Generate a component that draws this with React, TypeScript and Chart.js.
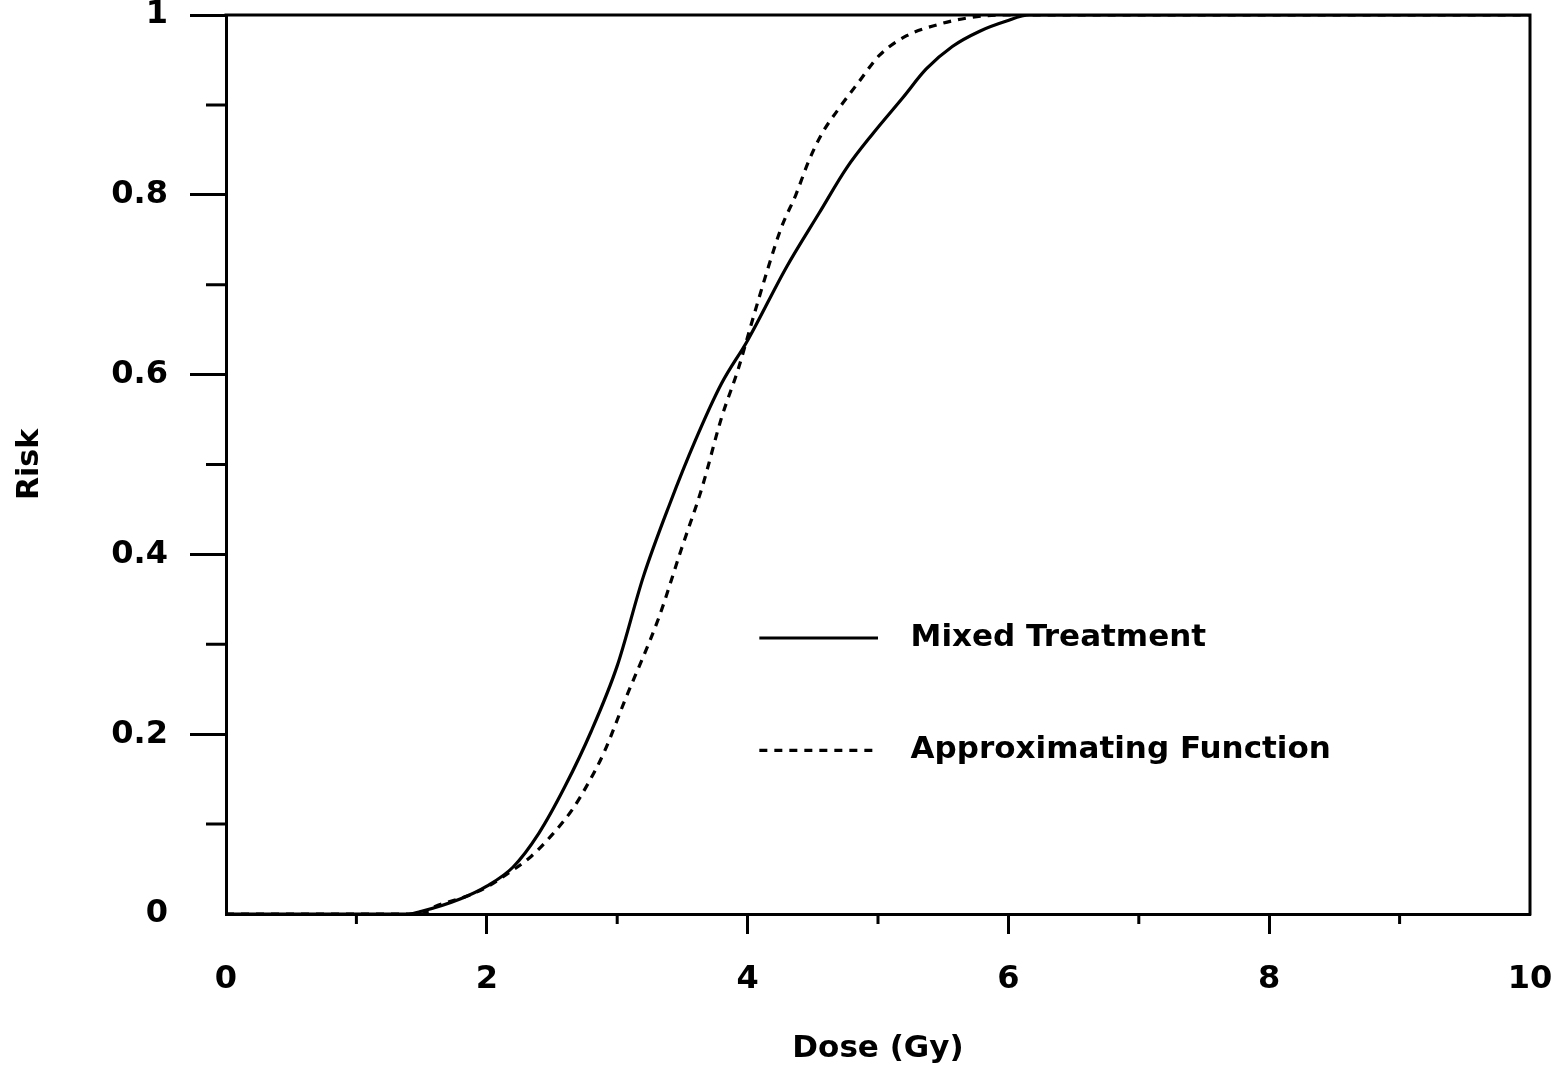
import { useEffect, useRef } from "react";
import { Chart, registerables } from "chart.js";

Chart.register(...registerables);

// ---- data ----
const doseMixed = [0, 1.4, 1.5, 1.8, 2.0, 2.2, 2.4, 2.6, 2.8, 3.0, 3.2, 3.4, 3.6, 3.8, 4.0, 4.3, 4.55, 4.76, 4.96, 5.19, 5.37, 5.57, 5.78, 5.98, 6.16, 10];
const riskMixed = [0, 0, 0.003, 0.017, 0.031, 0.052, 0.09, 0.142, 0.203, 0.276, 0.375, 0.455, 0.527, 0.59, 0.638, 0.72, 0.78, 0.83, 0.868, 0.908, 0.94, 0.965, 0.982, 0.993, 1.0, 1.0];

const doseApprox = [0, 1.5, 1.6, 1.85, 2.0, 2.14, 2.34, 2.5, 2.65, 2.78, 2.9, 3.06, 3.32, 3.49, 3.65, 3.8, 3.93, 4.02, 4.16, 4.26, 4.37, 4.47, 4.57, 4.7, 4.85, 5.01, 5.22, 5.45, 5.7, 5.95, 10];
const riskApprox = [0, 0, 0.008, 0.02, 0.03, 0.043, 0.064, 0.088, 0.115, 0.146, 0.18, 0.238, 0.33, 0.405, 0.474, 0.552, 0.607, 0.652, 0.72, 0.764, 0.8, 0.838, 0.868, 0.896, 0.925, 0.955, 0.977, 0.989, 0.997, 1.0, 1.0];

const seriesLabels = ["Mixed Treatment", "Approximating Function"];
const xTitle = "Dose (Gy)";
const yTitle = "Risk";

const xMajorTicks = [0, 2, 4, 6, 8, 10];
const xMinorTicks = [1, 3, 5, 7, 9];
const yMajorTicks = [0, 0.2, 0.4, 0.6, 0.8, 1];
const yMinorTicks = [0.1, 0.3, 0.5, 0.7, 0.9];

// legend placement in data units
const legendLineX = [4.09, 5.0];
const legendTextX = 5.25;
const legendY = [0.307, 0.182];

const FONT = "'DejaVu Sans', 'Liberation Sans', sans-serif";

const framePlugin = {
  id: "frame",
  afterDraw(chart: any) {
    const { ctx, chartArea: a, scales } = chart;
    const x = scales.x;
    const y = scales.y;
    ctx.save();
    ctx.strokeStyle = "#000";
    ctx.lineWidth = 3;
    ctx.lineCap = "butt";
    ctx.beginPath();
    ctx.moveTo(a.left - 1.5, a.top);
    ctx.lineTo(a.right, a.top);
    ctx.lineTo(a.right, a.bottom + 1.5);
    ctx.stroke();
    // minor ticks
    ctx.beginPath();
    xMinorTicks.forEach((v) => {
      const px = x.getPixelForValue(v);
      ctx.moveTo(px, a.bottom);
      ctx.lineTo(px, a.bottom + 10);
    });
    yMinorTicks.forEach((v) => {
      const py = y.getPixelForValue(v);
      ctx.moveTo(a.left - 20, py);
      ctx.lineTo(a.left, py);
    });
    ctx.stroke();
    // legend
    ctx.font = `bold 31px ${FONT}`;
    ctx.fillStyle = "#000";
    ctx.textBaseline = "middle";
    ctx.textAlign = "left";
    chart.data.datasets.forEach((ds: any, i: number) => {
      const ly = y.getPixelForValue(legendY[i]);
      ctx.beginPath();
      ctx.lineWidth = ds.borderWidth;
      ctx.setLineDash(ds.borderDash || []);
      ctx.moveTo(x.getPixelForValue(legendLineX[0]), ly);
      ctx.lineTo(x.getPixelForValue(legendLineX[1]), ly);
      ctx.stroke();
      ctx.setLineDash([]);
      ctx.fillText(ds.label, x.getPixelForValue(legendTextX), ly);
    });
    ctx.restore();
  },
};

export default function App() {
  const ref = useRef<HTMLCanvasElement | null>(null);

  useEffect(() => {
    if (!ref.current) return;
    const tickFont = { family: FONT, weight: "bold" as const, size: 32 };
    const chart = new Chart(ref.current, {
      type: "line",
      data: {
        datasets: [
          {
            label: seriesLabels[0],
            data: doseMixed.map((d, i) => ({ x: d, y: riskMixed[i] })),
            borderColor: "#000",
            borderWidth: 3.2,
            pointRadius: 0,
            fill: false,
            cubicInterpolationMode: "monotone",
          },
          {
            label: seriesLabels[1],
            data: doseApprox.map((d, i) => ({ x: d, y: riskApprox[i] })),
            borderColor: "#000",
            borderWidth: 3.2,
            borderDash: [8, 7],
            pointRadius: 0,
            fill: false,
            cubicInterpolationMode: "monotone",
          },
        ],
      },
      options: {
        animation: false,
        responsive: true,
        maintainAspectRatio: false,
        layout: { padding: { top: 15, right: 32, bottom: 0, left: 0 } },
        plugins: { legend: { display: false }, tooltip: { enabled: false } },
        scales: {
          x: {
            type: "linear",
            min: 0,
            max: 10,
            afterBuildTicks: (s: any) => {
              s.ticks = xMajorTicks.map((v) => ({ value: v }));
            },
            afterFit: (s: any) => {
              s.height = 155;
              s.paddingLeft = 0;
              s.paddingRight = 0;
            },
            ticks: {
              color: "#000",
              font: tickFont,
              padding: 26,
              maxRotation: 0,
              callback: (v: any) => String(v),
            },
            grid: {
              drawOnChartArea: false,
              drawTicks: true,
              tickLength: 20,
              tickWidth: 3,
              tickColor: (c: any) =>
                c.tick && (c.tick.value === 0 || c.tick.value === 10) ? "rgba(0,0,0,0)" : "#000",
            },
            border: { display: true, color: "#000", width: 3 },
            title: {
              display: true,
              text: xTitle,
              color: "#000",
              font: { family: FONT, weight: "bold", size: 31 },
              padding: { top: 0, bottom: 1 },
            },
          },
          y: {
            type: "linear",
            min: 0,
            max: 1,
            afterBuildTicks: (s: any) => {
              s.ticks = yMajorTicks.map((v) => ({ value: v }));
            },
            afterFit: (s: any) => {
              s.width = 226;
              s.paddingTop = 0;
              s.paddingBottom = 0;
            },
            ticks: {
              color: "#000",
              font: tickFont,
              padding: 22,
              callback: (v: any) => String(v),
            },
            grid: {
              drawOnChartArea: false,
              drawTicks: true,
              tickLength: 36,
              tickWidth: 3,
              tickColor: (c: any) => (c.tick && c.tick.value === 0 ? "rgba(0,0,0,0)" : "#000"),
            },
            border: { display: true, color: "#000", width: 3 },
            title: {
              display: true,
              text: yTitle,
              color: "#000",
              font: { family: FONT, weight: "bold", size: 30 },
              padding: { top: 12, bottom: 0 },
            },
          },
        },
      },
      plugins: [framePlugin],
    });
    return () => chart.destroy();
  }, []);

  return (
    <div style={{ position: "absolute", left: 0, top: 0, width: 1562, height: 1069, background: "#fff" }}>
      <canvas ref={ref} />
    </div>
  );
}
